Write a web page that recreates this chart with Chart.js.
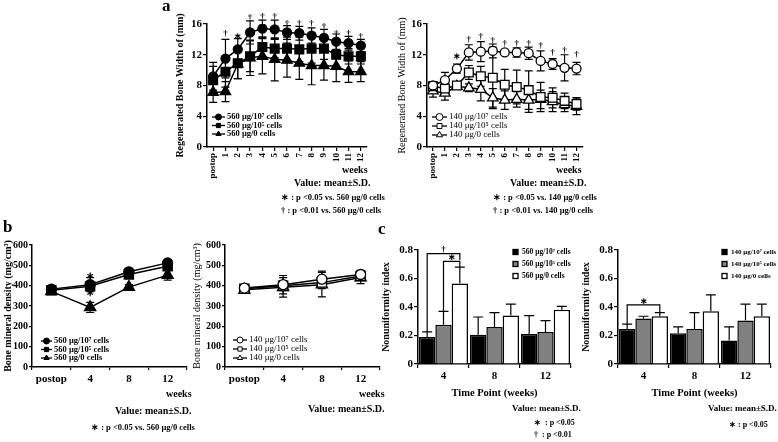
<!DOCTYPE html>
<html>
<head>
<meta charset="utf-8">
<script src="https://cdn.jsdelivr.net/npm/chart.js@4.4.0/dist/chart.umd.min.js"></script>
<style>
  body { margin:0; width:778px; height:442px; position:relative; overflow:hidden; background:#fff;
         font-family:'Liberation Serif','Times New Roman',serif; font-weight:bold; color:#000; }
  canvas { position:absolute; }
  .t { position:absolute; white-space:nowrap; line-height:1; }
  .lab { font-size:17px; }
  .note { font-size:8.5px; }
  .val { font-size:10px; }
  .cval { font-size:9px; }
  .cnote { font-size:8px; }
</style>
</head>
<body>
<canvas id="aLeft" width="230" height="170" style="left:150px;top:10px;width:230px;height:170px"></canvas>
<canvas id="aRight" width="210" height="170" style="left:380px;top:10px;width:210px;height:170px"></canvas>
<canvas id="bLeft" width="200" height="160" style="left:0px;top:235px;width:200px;height:160px"></canvas>
<canvas id="bRight" width="200" height="160" style="left:190px;top:235px;width:200px;height:160px"></canvas>
<canvas id="cLeft" width="200" height="160" style="left:375px;top:240px;width:200px;height:160px"></canvas>
<canvas id="cRight" width="202" height="160" style="left:576px;top:240px;width:202px;height:160px"></canvas>

<div class="t lab" style="left:162px;top:-3px">a</div>
<div class="t lab" style="left:3px;top:218px">b</div>
<div class="t lab" style="left:378px;top:220px">c</div>

<div class="t val" style="left:342px;top:165px">weeks</div>
<div class="t val" style="left:294px;top:178px">Value: mean±S.D.</div>
<div class="t note" style="left:281px;top:193px">∗ : p &lt;0.05 vs. 560 μg/0 cells</div>
<div class="t note" style="left:281px;top:206px">† : p &lt;0.01 vs. 560 μg/0 cells</div>

<div class="t val" style="left:556px;top:165px">weeks</div>
<div class="t val" style="left:510px;top:178px">Value: mean±S.D.</div>
<div class="t note" style="left:493px;top:193px">∗ : p &lt;0.05 vs. 140 μg/0 cells</div>
<div class="t note" style="left:493px;top:206px">† : p &lt;0.01 vs. 140 μg/0 cells</div>

<div class="t val" style="left:166px;top:389px">weeks</div>
<div class="t val" style="left:115px;top:406px">Value: mean±S.D.</div>
<div class="t note" style="left:91px;top:423px">∗ : p &lt;0.05 vs. 560 μg/0 cells</div>

<div class="t val" style="left:359px;top:389px">weeks</div>
<div class="t val" style="left:308px;top:404px">Value: mean±S.D.</div>

<div class="t cval" style="left:512px;top:404px">Value: mean±S.D.</div>
<div class="t cnote" style="left:534px;top:419px">∗&nbsp;&nbsp;: p &lt;0.05</div>
<div class="t cnote" style="left:534px;top:431px">†&nbsp;&nbsp;: p &lt;0.01</div>

<div class="t cval" style="left:708px;top:404px">Value: mean±S.D.</div>
<div class="t cnote" style="left:729px;top:421px">∗ : p &lt;0.05</div>

<script>
// ---- data ----
const weeksA = ['postop', '1', '2', '3', '4', '5', '6', '7', '8', '9', '10', '11', '12'];

const a560c7 = [9.2, 11.5, 12.7, 14.9, 15.4, 15.3, 14.9, 14.8, 14.5, 14.2, 13.7, 13.5, 13.2];
const a560c7Sd = [1.8, 2.5, 1.4, 1.5, 1.1, 1.2, 0.9, 0.9, 1.0, 1.1, 1.0, 0.9, 0.8];
const a560c5 = [8.7, 9.8, 10.9, 11.8, 13.0, 12.8, 12.8, 12.7, 12.8, 12.8, 12.0, 11.8, 11.8];
const a560c5Sd = [1.8, 2.0, 2.0, 2.0, 1.3, 1.2, 1.5, 1.6, 1.9, 1.4, 1.5, 1.0, 1.0];
const a560c0 = [7.1, 7.2, 10.8, 11.6, 11.8, 11.4, 11.3, 10.9, 10.6, 10.6, 10.5, 9.8, 9.8];
const a560c0Sd = [1.3, 1.3, 1.9, 2.3, 2.3, 2.8, 2.2, 2.1, 2.5, 1.9, 2.0, 1.4, 1.3];
const a560SigIdx = [1, 2, 3, 4, 5, 6, 7, 8, 9, 10, 11, 12];
const a560Sig = ['†', '∗', '†', '†', '†', '†', '†', '†', '†', '†', '†', '†'];
const a560SigAt = [14.8, 14.3, 16.8, 16.9, 16.9, 16.1, 16.1, 16.1, 15.6, 14.8, 14.8, 14.3];

const a140c7 = [8.0, 8.7, 10.2, 12.3, 12.4, 12.5, 12.3, 12.3, 12.2, 11.2, 10.8, 10.3, 10.2];
const a140c7Sd = [0.5, 1.0, 0.6, 1.0, 1.3, 0.9, 0.3, 0.6, 0.8, 1.3, 0.7, 1.7, 0.8];
const a140c5 = [7.9, 7.6, 8.0, 9.7, 9.2, 9.0, 8.1, 7.8, 7.4, 6.5, 6.4, 6.0, 5.6];
const a140c5Sd = [0.4, 0.6, 0.5, 0.9, 1.3, 4.0, 2.0, 2.2, 2.5, 1.9, 1.3, 1.0, 0.8];
const a140c0 = [7.3, 7.0, 7.9, 7.7, 7.5, 6.4, 6.1, 6.2, 6.1, 6.2, 5.9, 5.5, 5.3];
const a140c0Sd = [0.8, 0.9, 0.4, 0.5, 1.5, 1.2, 1.2, 1.0, 1.6, 1.2, 1.3, 0.9, 1.1];
const a140SigIdx = [2, 3, 4, 5, 6, 7, 8, 9, 10, 11, 12];
const a140Sig = ['∗', '†', '†', '†', '†', '†', '†', '†', '†', '†', '†'];
const a140SigAt = [11.7, 14.0, 14.3, 13.8, 13.4, 13.5, 13.5, 13.2, 12.3, 12.5, 12.0];

const weeksB = ['postop', '4', '8', '12'];
const b560c7 = [383, 405, 468, 512];
const b560c7Sd = [12, 35, 15, 15];
const b560c5 = [378, 397, 455, 495];
const b560c5Sd = [10, 15, 15, 15];
const b560c0 = [372, 293, 393, 452];
const b560c0Sd = [12, 25, 12, 25];
const b560SigIdx = [1, 1];
const b560Sig = ['∗', '∗'];
const b560SigAt = [445, 360];

const b140c7 = [388, 405, 432, 455];
const b140c7Sd = [10, 45, 40, 20];
const b140c5 = [385, 400, 415, 448];
const b140c5Sd = [10, 25, 30, 20];
const b140c0 = [380, 392, 405, 440];
const b140c0Sd = [15, 48, 60, 30];

const weeksC = ['4', '8', '12'];
const c560c7 = [0.19, 0.205, 0.21];
const c560c7Err = [0.035, 0.125, 0.13];
const c560c5 = [0.275, 0.26, 0.225];
const c560c5Err = [0.095, 0.10, 0.08];
const c560c0 = [0.565, 0.34, 0.38];
const c560c0Err = [0.115, 0.08, 0.025];

const c140c7 = [0.245, 0.215, 0.165];
const c140c7Err = [0.035, 0.045, 0.095];
const c140c5 = [0.32, 0.245, 0.305];
const c140c5Err = [0.015, 0.115, 0.115];
const c140c0 = [0.335, 0.37, 0.335];
const c140c0Err = [0.025, 0.115, 0.085];

const SERIF = "'Liberation Serif','Times New Roman',serif";
Chart.defaults.font.family = SERIF;
Chart.defaults.font.weight = 'bold';
Chart.defaults.font.size = 10;
Chart.defaults.color = '#000';
Chart.defaults.animation = false;
Chart.defaults.plugins.legend.display = false;
Chart.defaults.plugins.tooltip.enabled = false;

// error bars (line: both ways, bar: upward only)
const errBars = {
  id: 'errBars',
  draw(chart, upOnly) {
    const ctx = chart.ctx, ys = chart.scales.y;
    chart.data.datasets.forEach((ds, i) => {
      if (!ds.sd) return;
      const meta = chart.getDatasetMeta(i);
      ctx.save();
      ctx.strokeStyle = '#000';
      ctx.lineWidth = 1.2;
      meta.data.forEach((el, j) => {
        const v = ds.data[j], s = ds.sd[j];
        const yHi = ys.getPixelForValue(v + s);
        const yLo = ys.getPixelForValue(upOnly ? v : v - s);
        const cap = upOnly ? 5 : 4;
        ctx.beginPath();
        ctx.moveTo(el.x, yLo); ctx.lineTo(el.x, yHi);
        ctx.moveTo(el.x - cap, yHi); ctx.lineTo(el.x + cap, yHi);
        if (!upOnly) { ctx.moveTo(el.x - cap, yLo); ctx.lineTo(el.x + cap, yLo); }
        ctx.stroke();
      });
      ctx.restore();
    });
  },
  beforeDatasetsDraw(chart) { if (chart.config.type === 'line') this.draw(chart, false); },
  afterDatasetsDraw(chart) { if (chart.config.type === 'bar') this.draw(chart, true); }
};

// legend drawn inside the plot
const innerLegend = {
  id: 'innerLegend',
  afterDraw(chart, args, opts) {
    if (opts.x === undefined) return;
    const ctx = chart.ctx;
    ctx.save();
    ctx.font = `${opts.weight || 'bold'} ${opts.size}px ${SERIF}`;
    ctx.textBaseline = 'middle';
    chart.data.datasets.forEach((ds, i) => {
      const x = opts.x, y = opts.y + i * opts.gap;
      ctx.strokeStyle = '#000';
      ctx.lineWidth = 1.3;
      if (opts.box) {
        ctx.fillStyle = ds.backgroundColor;
        ctx.fillRect(x, y - opts.box / 2, opts.box, opts.box);
        ctx.strokeRect(x, y - opts.box / 2, opts.box, opts.box);
        ctx.fillStyle = '#000';
        ctx.fillText(ds.label, x + opts.box + 4, y);
        return;
      }
      ctx.beginPath(); ctx.moveTo(x, y); ctx.lineTo(x + opts.len, y); ctx.stroke();
      ctx.fillStyle = ds.pointBackgroundColor;
      ctx.lineWidth = 1;
      Chart.helpers.drawPoint(ctx, { pointStyle: ds.pointStyle, radius: opts.r, rotation: 0, borderWidth: 1 }, x + opts.len / 2, y);
      ctx.fillStyle = '#000';
      ctx.fillText(ds.label, x + opts.len + 2, y);
    });
    ctx.restore();
  }
};

// significance marks above points
const sigMarks = {
  id: 'sigMarks',
  afterDraw(chart, args, opts) {
    if (!opts.marks) return;
    const ctx = chart.ctx, xs = chart.scales.x, ys = chart.scales.y;
    ctx.save();
    ctx.fillStyle = '#000';
    ctx.font = `bold ${opts.size || 9}px ${SERIF}`;
    ctx.textAlign = 'center';
    ctx.textBaseline = 'middle';
    opts.marks.forEach((m, k) => {
      ctx.fillText(m, xs.getPixelForValue(opts.idx[k]), ys.getPixelForValue(opts.at[k]));
    });
    ctx.restore();
  }
};

// brackets between bars
const brackets = {
  id: 'brackets',
  afterDraw(chart, args, opts) {
    if (!opts.list) return;
    const ctx = chart.ctx, ys = chart.scales.y;
    ctx.save();
    ctx.strokeStyle = '#000';
    ctx.fillStyle = '#000';
    ctx.lineWidth = 1.2;
    ctx.font = `bold 9px ${SERIF}`;
    ctx.textAlign = 'center';
    ctx.textBaseline = 'bottom';
    opts.list.forEach(b => {
      const x1 = chart.getDatasetMeta(b.from).data[b.cat].x;
      const x2 = chart.getDatasetMeta(b.to).data[b.cat].x;
      const yt = ys.getPixelForValue(b.top);
      ctx.beginPath();
      ctx.moveTo(x1, ys.getPixelForValue(b.left));
      ctx.lineTo(x1, yt); ctx.lineTo(x2, yt);
      ctx.lineTo(x2, ys.getPixelForValue(b.right));
      ctx.stroke();
      ctx.fillText(b.mark, (x1 + x2) / 2, yt + 1);
    });
    ctx.restore();
  }
};

const tickGrid = (offset, len) => ({ drawOnChartArea: false, color: '#000', lineWidth: 1.2, tickLength: len, offset });
const axisBorder = { color: '#000', width: 1.5 };

function yAxis(max, step, title, width, fs, weight, tl) {
  return {
    min: 0, max,
    ticks: { stepSize: step, font: { size: fs }, padding: 1 },
    grid: tickGrid(false, tl),
    border: axisBorder,
    title: { display: true, text: title, padding: 0, font: { size: 10, weight } },
    afterFit: s => { s.width = width; }
  };
}

function lineSet(label, data, sd, style, filled, r) {
  return {
    label, data, sd,
    borderColor: '#000', borderWidth: 1.5,
    pointStyle: style, pointRadius: r,
    pointBackgroundColor: filled ? '#000' : '#fff',
    pointBorderColor: '#000', pointBorderWidth: 1.3
  };
}

function lineChart(id, labels, sets, o) {
  return new Chart(document.getElementById(id), {
    type: 'line',
    data: { labels, datasets: sets },
    options: {
      responsive: false,
      layout: { padding: o.pad },
      scales: {
        x: {
          offset: true,
          grid: tickGrid(o.gridOffset, o.tl),
          border: axisBorder,
          ticks: { autoSkip: false, minRotation: o.rot, maxRotation: o.rot, font: { size: o.xfs }, padding: o.xpad },
          afterFit: s => { s.height = o.xh; }
        },
        y: o.y
      },
      plugins: { innerLegend: o.legend, sigMarks: o.sig || {} }
    },
    plugins: [errBars, innerLegend, sigMarks]
  });
}

function barChart(id, sets, o) {
  return new Chart(document.getElementById(id), {
    type: 'bar',
    data: { labels: weeksC, datasets: sets },
    options: {
      responsive: false,
      layout: { padding: o.pad },
      datasets: { bar: { categoryPercentage: 0.96, barPercentage: 1 } },
      scales: {
        x: {
          grid: tickGrid(true, 4),
          border: axisBorder,
          ticks: { font: { size: 11 }, padding: 2 },
          title: { display: true, text: 'Time Point (weeks)', padding: 0, font: { size: 10.5 } },
          afterFit: s => { s.height = 36; }
        },
        y: yAxis(0.8, 0.1, 'Nonuniformity index', 38, 11, 'bold', 4)
      },
      plugins: { innerLegend: o.legend, brackets: { list: o.brackets } }
    },
    plugins: [errBars, innerLegend, brackets]
  });
}

function barSet(label, data, sd, color) {
  return { label, data, sd, backgroundColor: color, borderColor: '#000', borderWidth: 1.5 };
}

// ---- a ----
lineChart('aLeft', weeksA, [
  lineSet('560 μg/10⁷ cells', a560c7, a560c7Sd, 'circle', true, 4.5),
  lineSet('560 μg/10⁵ cells', a560c5, a560c5Sd, 'rect', true, 6.2),
  lineSet('560 μg/0 cells', a560c0, a560c0Sd, 'triangle', true, 6)
], {
  pad: { left: 24, top: 14, right: 13, bottom: 0 },
  y: yAxis(16, 2, 'Regenerated Bone Width of (mm)', 33, 11, 'bold', 4),
  gridOffset: false, tl: 4, rot: 90, xfs: 9, xpad: 2, xh: 33,
  legend: { x: 62, y: 107, gap: 8.5, len: 13, r: 3, size: 8.5 },
  sig: { marks: a560Sig, idx: a560SigIdx, at: a560SigAt, size: 9 }
});

lineChart('aRight', weeksA, [
  lineSet('140 μg/10⁷ cells', a140c7, a140c7Sd, 'circle', false, 4.5),
  lineSet('140 μg/10⁵ cells', a140c5, a140c5Sd, 'rect', false, 6.2),
  lineSet('140 μg/0 cells', a140c0, a140c0Sd, 'triangle', false, 6)
], {
  pad: { left: 16, top: 14, right: 7, bottom: 0 },
  y: yAxis(16, 2, 'Regenerated Bone Width of (mm)', 31, 11, 'normal', 4),
  gridOffset: false, tl: 4, rot: 90, xfs: 9, xpad: 2, xh: 33,
  legend: { x: 52, y: 107, gap: 9, len: 15, r: 3.5, size: 9, weight: 'normal' },
  sig: { marks: a140Sig, idx: a140SigIdx, at: a140SigAt, size: 9 }
});

// ---- b ----
lineChart('bLeft', weeksB, [
  lineSet('560 μg/10⁷ cells', b560c7, b560c7Sd, 'circle', true, 5),
  lineSet('560 μg/10⁵ cells', b560c5, b560c5Sd, 'rect', true, 6.5),
  lineSet('560 μg/0 cells', b560c0, b560c0Sd, 'triangle', true, 6.5)
], {
  pad: { left: 2, top: 10, right: 13, bottom: 0 },
  y: yAxis(600, 100, 'Bone mineral density (mg/cm³)', 30, 10, 'bold', 3),
  gridOffset: true, tl: 3, rot: 0, xfs: 11, xpad: 3, xh: 28,
  legend: { x: 41, y: 106, gap: 8.5, len: 11, r: 3, size: 8.5 },
  sig: { marks: b560Sig, idx: b560SigIdx, at: b560SigAt, size: 10 }
});

lineChart('bRight', weeksB, [
  lineSet('140 μg/10⁷ cells', b140c7, b140c7Sd, 'circle', false, 5),
  lineSet('140 μg/10⁵ cells', b140c5, b140c5Sd, 'rect', false, 6.5),
  lineSet('140 μg/0 cells', b140c0, b140c0Sd, 'triangle', false, 6.5)
], {
  pad: { left: 1, top: 10, right: 10, bottom: 0 },
  y: yAxis(600, 100, 'Bone mineral density (mg/cm³)', 34, 10, 'normal', 3),
  gridOffset: true, tl: 3, rot: 0, xfs: 11, xpad: 3, xh: 28,
  legend: { x: 43, y: 105, gap: 9, len: 14, r: 3, size: 9, weight: 'normal' }
});

// ---- c ----
barChart('cLeft', [
  barSet('560 μg/10⁷ cells', c560c7, c560c7Err, '#000'),
  barSet('560 μg/10⁵ cells', c560c5, c560c5Err, '#808080'),
  barSet('560 μg/0 cells', c560c0, c560c0Err, '#fff')
], {
  pad: { left: 5, top: 10, right: 4, bottom: 0 },
  legend: { x: 138, y: 12, gap: 12, box: 5, size: 7.5 },
  brackets: [
    { cat: 0, from: 0, to: 2, top: 0.775, left: 0.225, right: 0.73, mark: '†' },
    { cat: 0, from: 1, to: 2, top: 0.72, left: 0.37, right: 0.68, mark: '∗' }
  ]
});

barChart('cRight', [
  barSet('140 μg/10⁷ cells', c140c7, c140c7Err, '#000'),
  barSet('140 μg/10⁵ cells', c140c5, c140c5Err, '#808080'),
  barSet('140 μg/0 cells', c140c0, c140c0Err, '#fff')
], {
  pad: { left: 4, top: 10, right: 7, bottom: 0 },
  legend: { x: 146, y: 12, gap: 12, box: 5, size: 7 },
  brackets: [
    { cat: 0, from: 0, to: 2, top: 0.415, left: 0.28, right: 0.36, mark: '∗' }
  ]
});
</script>
</body>
</html>
